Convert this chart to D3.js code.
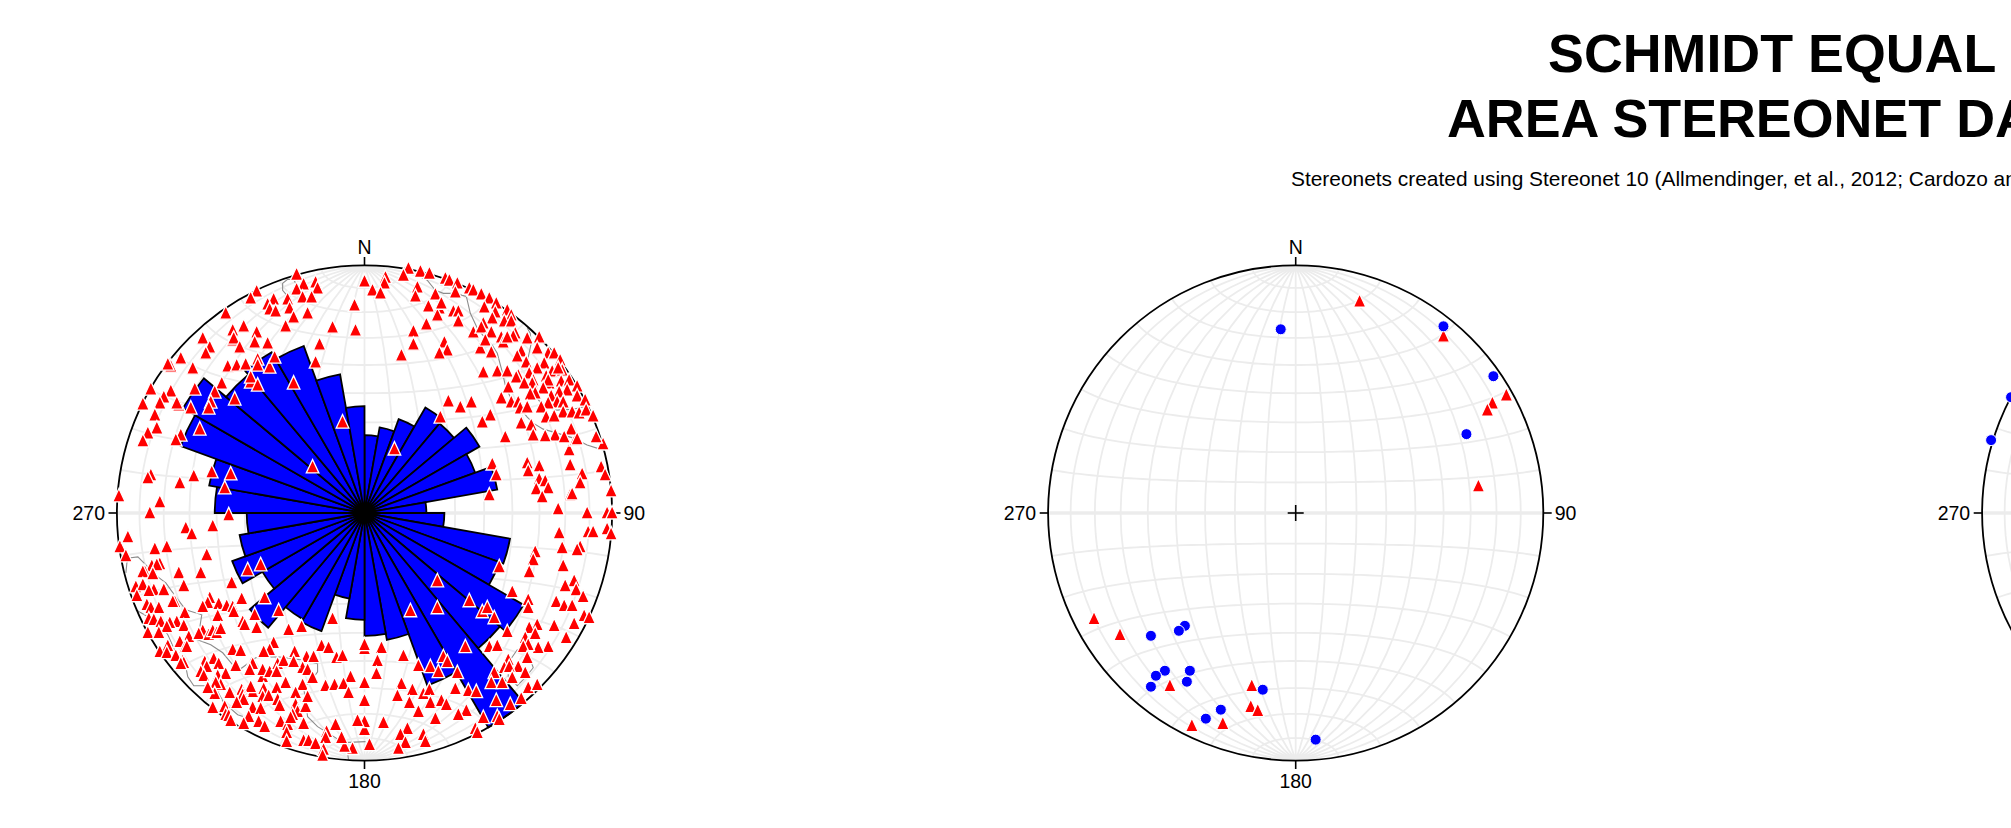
<!DOCTYPE html>
<html>
<head>
<meta charset="utf-8">
<title>Schmidt equal area stereonet data</title>
<script src="https://cdn.jsdelivr.net/npm/d3@7"></script>
<style>
  html, body { margin: 0; padding: 0; background: #fff; overflow: hidden; }
  svg { display: block; font-family: "Liberation Sans", sans-serif; }
</style>
</head>
<body>
<svg id="chart" width="2011" height="828"></svg>
<script>
const titleLines = ['SCHMIDT EQUAL', 'AREA STEREONET DATA'];
const subtitle = 'Stereonets created using Stereonet 10 (Allmendinger, et al., 2012; Cardozo and Allmendinger, 2013)';
const compassLabels = ['N', '90', '180', '270'];

// rose petal lengths, one per 10 degree bin clockwise from north (net units, primitive circle = 248)
const rosePetals = [
  78, 87, 100, 122, 117, 133, 118, 135, 62,
  80, 148, 144, 184, 177, 248, 184, 129, 123,
  107, 87, 126, 123, 150, 118, 141, 127, 118,
  150, 158, 196, 210, 181, 186, 178, 141, 107
];

// all points are [east, north] in net units
const net1TrianglesNW = [
  [-68,239],[-61,229],[-49,231],[-47,225],[-68,224],[-77,214],[-62,216],[-53,216],[-108,222],[-114,215],
  [-91,214],[-97,209],[-95,204],[-89,202],[-75,205],[-71,196],[-57,200],[-139,200],[-79,187],[-121,187],
  [-132,183],[-108,181],[-132,173],[-131,175],[-162,175],[-110,171],[-97,170],[-125,166],[-155,166],[-159,160],
  [-184,155],[-194,147],[-197,149],[-172,145],[-137,147],[-128,148],[-119,149],[-107,154],[-107,148],[-95,146],
  [-90,156],[-114,131],[-114,136],[-107,128],[-143,130],[-170,124],[-150,121],[-130,114],[-214,124],[-194,122],
  [-201,116],[-205,110],[-222,109],[-186,108],[-188,110],[-154,111],[-156,105],[-174,105],[-210,98],[-208,85],
  [-165,84],[-217,80],[-222,72],[-184,78],[-189,73],[-153,41],[-134,39],[-214,38],[-217,35],[-171,37],
  [-185,30],[-140,25],[-246,17],[-205,11],[-215,0],[-136,-2],[-71,130],[-22,91],[-52,46],[0,232],
  [8,223],[-10,208],[-32,186],[-9,183],[-45,169],[-49,151]
];
const net1TrianglesNE = [
  [21,236],[20,230],[16,220],[44,245],[56,242],[65,240],[39,238],[53,226],[51,217],[81,235],
  [85,233],[93,230],[71,219],[91,221],[105,225],[109,223],[117,219],[125,215],[64,207],[75,205],
  [73,198],[77,210],[89,202],[94,202],[94,192],[62,189],[49,182],[49,169],[37,158],[80,171],
  [83,163],[75,160],[109,181],[116,165],[84,112],[96,106],[107,111],[76,96],[128,49],[132,38],
  [125,18],[30,64],[163,50],[164,42],[175,47],[175,34],[181,32],[184,25],[172,24],[178,16],
  [206,48],[218,39],[216,30],[237,46],[241,38],[247,22],[206,18],[208,19],[194,4],[223,0],
  [243,0],[248,0],[205,63],[239,69],[211,73],
  [132,210],[120,206],[131,201],[143,203],[147,198],[128,195],[140,192],[147,192],[119,190],[117,186],
  [151,180],[149,177],[127,181],[137,176],[139,171],[143,176],[163,175],[175,176],[173,165],[121,173],
  [157,162],[153,157],[127,161],[184,160],[190,160],[196,153],[180,150],[162,151],[173,145],[188,142],
  [198,143],[119,141],[133,142],[143,142],[165,140],[154,138],[152,136],[169,133],[168,130],[160,130],
  [182,137],[185,130],[184,133],[197,132],[205,133],[213,127],[179,125],[144,126],[171,120],[166,119],
  [203,123],[195,121],[213,117],[137,115],[187,117],[193,111],[199,111],[184,110],[147,111],[154,111],
  [156,105],[163,106],[177,106],[221,113],[199,101],[208,101],[215,100],[222,103],[182,96],[190,97],
  [229,97],[126,98],[118,91],[157,90],[167,88],[207,84],[191,78],[169,78],[181,77],[200,76],
  [141,76],[232,76],[213,74],[194,145]
];
const net1TrianglesSE = [
  [195,-20],[224,-19],[229,-19],[243,-16],[247,-21],[171,-39],[169,-47],[198,-35],[216,-34],[213,-37],
  [199,-53],[165,-59],[135,-54],[73,-68],[210,-68],[201,-73],[212,-77],[219,-84],[148,-79],[164,-87],
  [164,-95],[192,-89],[200,-93],[208,-93],[105,-88],[118,-99],[123,-95],[130,-105],[73,-95],[46,-98],
  [220,-103],[225,-105],[210,-111],[190,-113],[173,-112],[165,-115],[171,-121],[143,-119],[202,-125],[161,-125],
  [184,-134],[174,-135],[164,-132],[159,-134],[125,-134],[133,-133],[101,-134],[163,-145],[144,-147],[154,-154],
  [140,-155],[145,-154],[161,-160],[148,-165],[130,-160],[127,-170],[138,-170],[164,-175],[173,-172],[17,-135],
  [0,-136],[0,-132],[39,-143],[13,-148],[12,-161],[54,-153],[66,-154],[79,-144],[83,-149],[74,-159],
  [93,-160],[0,-170],[37,-171],[48,-177],[33,-183],[59,-181],[65,-177],[91,-176],[104,-178],[112,-179],
  [0,-188],[45,-190],[66,-190],[77,-188],[82,-192],[54,-199],[132,-188],[146,-192],[157,-186],[102,-198],
  [94,-202],[119,-205],[133,-204],[135,-207],[71,-206],[19,-210],[0,-217],[0,-209],[43,-216],[36,-222],
  [59,-222],[61,-229],[41,-230],[34,-236],[111,-216],[113,-220],[5,-232]
];
const net1TrianglesSW = [
  [-245,-34],[-239,-43],[-210,-36],[-198,-34],[-158,-42],[-186,-60],[-164,-60],[-117,-57],[-104,-52],[-213,-53],
  [-206,-51],[-205,-51],[-208,-52],[-220,-59],[-222,-59],[-212,-61],[-133,-70],[-181,-73],[-229,-74],[-222,-72],
  [-211,-77],[-216,-78],[-201,-77],[-228,-83],[-190,-89],[-192,-89],[-155,-85],[-157,-90],[-162,-94],[-146,-91],
  [-138,-93],[-132,-94],[-131,-99],[-123,-86],[-218,-92],[-214,-95],[-206,-95],[-180,-100],[-147,-103],[-216,-106],
  [-211,-107],[-204,-109],[-188,-109],[-195,-110],[-198,-114],[-181,-113],[-122,-109],[-120,-112],[-217,-120],[-206,-120],
  [-176,-124],[-162,-118],[-166,-121],[-156,-122],[-152,-118],[-148,-120],[-144,-116],[-185,-129],[-197,-133],[-180,-135],
  [-178,-134],[-205,-139],[-198,-140],[-189,-143],[-132,-137],[-124,-138],[-182,-148],[-181,-150],[-184,-151],[-129,-153],
  [-113,-150],[-160,-149],[-151,-146],[-146,-151],[-158,-154],[-164,-159],[-161,-163],[-147,-163],[-139,-161],
  [-108,-115],[-76,-117],[-63,-114],[-43,-133],[-36,-135],[-28,-145],[-91,-130],[-95,-137],[-101,-139],[-70,-139],
  [-58,-144],[-51,-144],[-112,-151],[-115,-157],[-102,-164],[-102,-157],[-95,-159],[-87,-151],[-81,-148],[-88,-159],
  [-62,-155],[-57,-157],[-52,-165],[-62,-172],[-71,-149],[-39,-173],[-30,-172],[-79,-170],[-88,-175],[-112,-179],
  [-114,-174],[-101,-176],[-102,-184],[-96,-183],[-135,-180],[-123,-177],[-122,-182],[-121,-187],[-128,-190],[-144,-172],
  [-149,-170],[-150,-181],[-157,-175],[-69,-180],[-69,-192],[-67,-199],[-59,-194],[-57,-184],[-87,-187],[-85,-193],
  [-112,-195],[-104,-196],[-140,-194],[-139,-202],[-136,-203],[-152,-195],[-116,-204],[-134,-208],[-121,-211],[-106,-209],
  [-100,-214],[-84,-209],[-72,-202],[-77,-212],[-74,-205],[-61,-211],[-29,-212],[-38,-219],[-39,-225],[-78,-220],
  [-78,-229],[-61,-228],[-56,-228],[-49,-231],[-41,-237],[-42,-243],
  [-179,-15],[-173,-21],[-152,-13],[-237,-24],[-100,-85],[-86,-98],[-110,-102],[-32,-106],[-22,-143],[-14,-164],
  [-21,-171],[-16,-180],[-7,-208],[-12,-236],[-20,-234],[-23,-225]
];

// thin grey outlines on the first net
const net1OutlineNE = [[41,240],[49,240],[63,233],[71,223],[79,220],[91,220],[102,217],[106,200],[113,185],[121,175],[128,168],[133,160],[138,141],[141,128],[146,116],[154,107],[163,96],[169,90],[179,84],[193,80],[209,75],[223,68],[239,63]];
const net1OutlineE = [[163,185],[166,180],[167,170],[164,156],[164,140],[168,126],[173,115],[179,107],[193,103],[209,104],[226,108]];
const net1OutlineTop = [[-76,216],[-82,223],[-82,230],[-77,234],[-71,234],[-68,228],[-72,220],[-76,216]];
const net1OutlineSE = [[153,-137],[164,-140],[169,-155],[161,-165],[153,-173],[144,-164],[144,-150],[153,-137]];
const net1OutlineSW = [[-239,-60],[-238,-50],[-236,-45],[-227,-44],[-219,-52],[-211,-61],[-199,-70],[-189,-84],[-179,-97],[-163,-102],[-167,-127],[-154,-132],[-142,-140],[-132,-152],[-124,-156],[-109,-145],[-87,-144],[-64,-147],[-47,-151],[-47,-159],[-54,-169],[-61,-174],[-57,-204],[-47,-214],[-26,-227],[-17,-240],[-16,-247]];
const net1OutlineS = [[-229,-97],[-217,-104],[-204,-112],[-197,-122],[-189,-140],[-179,-154],[-177,-164],[-171,-173],[-157,-173],[-147,-179],[-141,-190],[-127,-202],[-121,-204]];
const net1OutlineBottom = [[-22,-230],[1,-229]];

const net2Triangles = [
  [64,212],[148,177],[211,118],[197,110],[192,103],[183,27],[-202,-106],[-176,-122],[-126,-173],[-44,-173],
  [-45,-194],[-38,-198],[-73,-211],[-104,-213]
];
const net2Circles = [
  [-15,184],[148,187],[198,137],[171,79],[-111,-113],[-117,-118],[-145,-123],[-131,-158],[-140,-163],[-145,-174],
  [-106,-158],[-109,-169],[-33,-177],[-75,-197],[-90,-206],[20,-227]
];
const net3Circles = [[-239,73],[-219,116]];

const NET_UNITS = 248;
const NET_RADIUS = 247.6;
const NET_Y = 513;
const GRID_COLOR = '#ececec';

// the net's triangles are a bit taller than they are wide
const tallTriangle = {
  draw(context) {
    context.moveTo(0, -7.6);
    context.lineTo(6.3, 5.9);
    context.lineTo(-6.3, 5.9);
    context.closePath();
  }
};

const svg = d3.select('#chart');

svg.selectAll('text.title')
  .data(titleLines)
  .join('text')
  .attr('class', 'title')
  .attr('x', (d, i) => i === 0 ? 1548 : 1447)
  .attr('y', (d, i) => 71.5 + i * 65)
  .attr('font-size', 53.8)
  .attr('font-weight', 'bold')
  .text(d => d);

svg.append('text')
  .attr('x', 1291)
  .attr('y', 185.5)
  .attr('font-size', 20.9)
  .text(subtitle);

function drawNet(cx, opts) {
  const g = svg.append('g').attr('transform', `translate(${cx},${NET_Y})`);

  const X = d3.scaleLinear().domain([-NET_UNITS, NET_UNITS]).range([-NET_RADIUS, NET_RADIUS]);
  const Y = d3.scaleLinear().domain([-NET_UNITS, NET_UNITS]).range([NET_RADIUS, -NET_RADIUS]);

  // equal area grid, 10 degree steps
  const projection = d3.geoAzimuthalEqualArea()
    .scale(NET_RADIUS / Math.SQRT2)
    .translate([0, 0])
    .clipAngle(90)
    .precision(0.2);
  const graticule = d3.geoGraticule().extent([[-180, -90], [180, 90.001]]).step([10, 10]);

  g.append('path')
    .attr('d', d3.geoPath(projection)(graticule()))
    .attr('fill', 'none')
    .attr('stroke', GRID_COLOR)
    .attr('stroke-width', 1.8);

  g.append('line')
    .attr('x1', -NET_RADIUS).attr('x2', NET_RADIUS)
    .attr('y1', Y(0)).attr('y2', Y(0))
    .attr('stroke', GRID_COLOR)
    .attr('stroke-width', 3.5);

  const outline = d3.line().x(d => X(d[0])).y(d => Y(d[1]));
  g.selectAll('path.outline')
    .data(opts.outlines || [])
    .join('path')
    .attr('class', 'outline')
    .attr('d', outline)
    .attr('fill', 'none')
    .attr('stroke', '#8c8c8c')
    .attr('stroke-width', 1.1);

  if (opts.rose) {
    const arc = d3.arc().innerRadius(0);
    const binAngle = 2 * Math.PI / opts.rose.length;
    g.selectAll('path.petal')
      .data(opts.rose)
      .join('path')
      .attr('class', 'petal')
      .attr('d', (d, i) => arc({
        outerRadius: X(d),
        startAngle: i * binAngle,
        endAngle: (i + 1) * binAngle
      }))
      .attr('fill', '#0000ff')
      .attr('stroke', '#000')
      .attr('stroke-width', 1.8)
      .attr('stroke-linejoin', 'miter');
  }

  // primitive circle, ticks, centre cross
  g.append('circle')
    .attr('r', NET_RADIUS)
    .attr('fill', 'none')
    .attr('stroke', '#000')
    .attr('stroke-width', 1.8);

  const ticks = [[0, -NET_RADIUS, 0, -256], [NET_RADIUS, 0, 256, 0], [0, NET_RADIUS, 0, 256], [-NET_RADIUS, 0, -256, 0], [-8, 0, 8, 0], [0, -8, 0, 8]];
  g.selectAll('line.tick')
    .data(ticks)
    .join('line')
    .attr('class', 'tick')
    .attr('x1', d => d[0]).attr('y1', d => d[1])
    .attr('x2', d => d[2]).attr('y2', d => d[3])
    .attr('stroke', '#000')
    .attr('stroke-width', 1.6);

  const labelPos = [
    { x: 0, y: -259, anchor: 'middle' },
    { x: 259, y: 7, anchor: 'start' },
    { x: 0, y: 275, anchor: 'middle' },
    { x: -259.5, y: 7, anchor: 'end' }
  ];
  g.selectAll('text.compass')
    .data(compassLabels)
    .join('text')
    .attr('class', 'compass')
    .attr('x', (d, i) => labelPos[i].x)
    .attr('y', (d, i) => labelPos[i].y)
    .attr('text-anchor', (d, i) => labelPos[i].anchor)
    .attr('font-size', 19.5)
    .text(d => d);

  const triangle = d3.symbol().type(tallTriangle);
  g.selectAll('path.tri')
    .data(opts.triangles || [])
    .join('path')
    .attr('class', 'tri')
    .attr('d', triangle)
    .attr('transform', d => `translate(${X(d[0])},${Y(d[1])})`)
    .attr('fill', '#ff0000')
    .attr('stroke', '#fff')
    .attr('stroke-width', 1.3);

  const dot = d3.symbol().type(d3.symbolCircle).size(95);
  g.selectAll('path.dot')
    .data(opts.circles || [])
    .join('path')
    .attr('class', 'dot')
    .attr('d', dot)
    .attr('transform', d => `translate(${X(d[0])},${Y(d[1])})`)
    .attr('fill', '#0000ff')
    .attr('stroke', '#fff')
    .attr('stroke-width', 1);
}

drawNet(364.5, {
  rose: rosePetals,
  triangles: [...net1TrianglesNW, ...net1TrianglesNE, ...net1TrianglesSE, ...net1TrianglesSW],
  outlines: [net1OutlineNE, net1OutlineE, net1OutlineTop, net1OutlineSE, net1OutlineSW, net1OutlineS, net1OutlineBottom]
});
drawNet(1295.7, { triangles: net2Triangles, circles: net2Circles });
drawNet(2229.7, { circles: net3Circles });
</script>
</body>
</html>
